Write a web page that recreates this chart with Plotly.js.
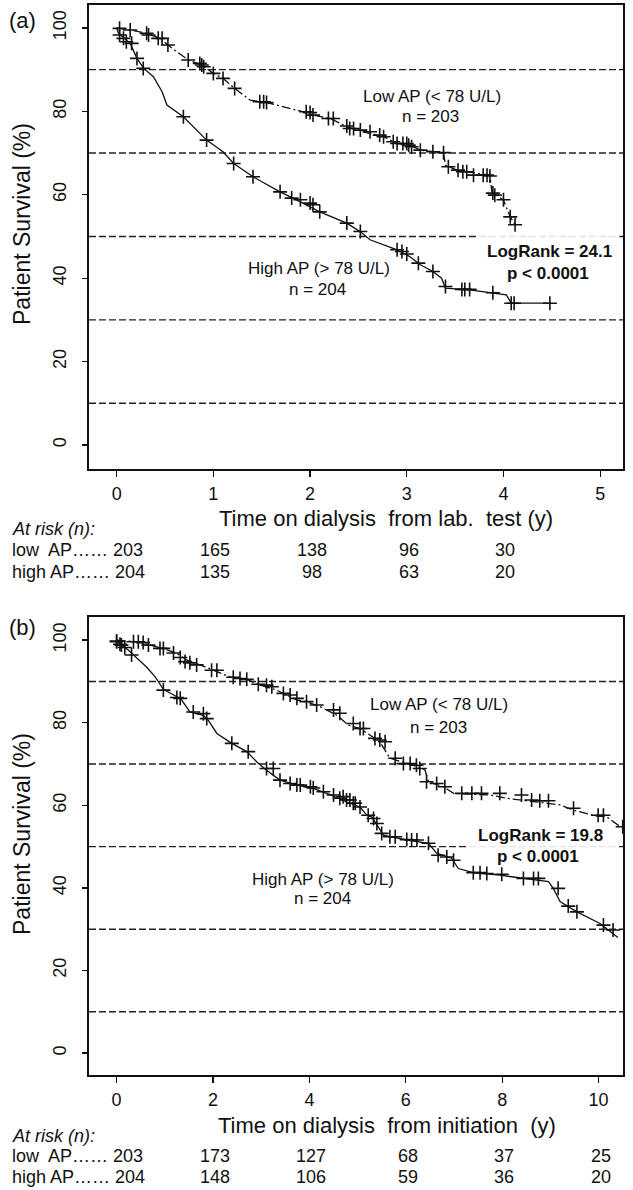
<!DOCTYPE html>
<html>
<head>
<meta charset="utf-8">
<script src="https://cdn.plot.ly/plotly-3.0.1.min.js"></script>
<style>html,body{margin:0;padding:0;background:#fff;}#chart{width:633px;height:1190px;}</style>
</head>
<body>
<div id="chart"></div>
<script>
// ---------- DATA ----------
// Panel (a): time on dialysis from lab. test (years), survival (%)
const aLowT  = [0, 0.14, 0.31, 0.45, 0.53, 0.74, 0.88, 1.0, 1.10, 1.22, 1.38, 1.55, 1.93, 2.03, 2.21, 2.38, 2.55, 2.76, 2.90, 3.03, 3.14, 3.38, 3.40, 3.52, 3.86, 3.88, 4.0, 4.07, 4.12];
const aLowS  = [100, 99.5, 98.7, 97.5, 95.9, 92.3, 91.1, 89.1, 87.9, 85.5, 82.7, 82.1, 79.9, 79.1, 78.3, 76.3, 75.1, 73.9, 72.3, 71.9, 70.7, 70.1, 67.1, 65.9, 64.7, 60.7, 58.7, 54.7, 52.8];
const aHighT = [0, 0.02, 0.14, 0.21, 0.28, 0.38, 0.47, 0.52, 0.69, 0.93, 1.10, 1.21, 1.41, 1.69, 1.90, 2.10, 2.38, 2.52, 2.62, 2.90, 3.03, 3.14, 3.27, 3.36, 3.40, 3.65, 4.03, 4.08, 4.48];
const aHighS = [100, 98.7, 96.3, 92.7, 90.3, 88.3, 84.7, 81.5, 78.7, 73.1, 70.3, 67.5, 64.3, 60.7, 58.3, 55.9, 53.2, 51.1, 49.2, 46.8, 45.2, 43.2, 41.6, 40.0, 37.6, 37.2, 36.0, 34.0, 34.0];
// censored observations (+)
const aLowCensT = [0.03, 0.14, 0.31, 0.33, 0.43, 0.47, 0.53, 0.74, 0.86, 0.88, 0.90, 1.0, 1.10, 1.22, 1.48, 1.52, 1.55, 1.96, 2.0, 2.03, 2.19, 2.24, 2.38, 2.41, 2.45, 2.52, 2.62, 2.72, 2.76, 2.86, 2.90, 2.96, 3.0, 3.02, 3.05, 3.14, 3.27, 3.38, 3.43, 3.53, 3.58, 3.62, 3.69, 3.79, 3.83, 3.86, 3.89, 3.91, 4.0, 4.07, 4.12];
const aLowCensS = [99.9, 99.5, 98.7, 98.3, 97.5, 97.5, 95.9, 92.3, 91.5, 91.1, 90.7, 89.1, 87.9, 85.5, 82.3, 82.3, 82.1, 79.9, 79.7, 79.1, 78.3, 78.3, 76.5, 75.9, 75.9, 75.5, 75.1, 74.3, 73.9, 72.7, 72.3, 72.3, 72.3, 71.9, 71.5, 70.7, 70.3, 70.1, 66.7, 65.9, 65.5, 65.5, 64.7, 64.7, 64.7, 64.5, 60.4, 59.9, 58.8, 54.7, 52.8];
const aHighCensT = [0.03, 0.07, 0.10, 0.155, 0.21, 0.275, 0.69, 0.93, 1.21, 1.41, 1.69, 1.81, 1.90, 2.0, 2.03, 2.10, 2.38, 2.52, 2.90, 2.95, 3.0, 3.12, 3.27, 3.40, 3.57, 3.60, 3.65, 3.89, 4.08, 4.11, 4.48];
const aHighCensS = [98.3, 97.5, 96.7, 96.3, 92.7, 90.3, 78.7, 73.1, 67.5, 64.3, 60.7, 59.2, 58.8, 58.0, 57.6, 55.9, 53.2, 51.2, 46.8, 46.4, 45.8, 43.6, 41.6, 38.0, 37.3, 37.3, 37.3, 36.5, 34.0, 34.0, 34.0];

// Panel (b): time on dialysis from initiation (years), survival (%)
const bLowT  = [0, 0.45, 0.69, 0.97, 1.25, 1.45, 1.73, 2.01, 2.35, 2.70, 2.98, 3.32, 3.74, 3.94, 4.22, 4.57, 4.81, 5.05, 5.26, 5.46, 5.67, 5.78, 6.02, 6.29, 6.40, 6.47, 6.78, 6.99, 7.75, 8.09, 8.65, 9.20, 9.48, 9.96, 10.17, 10.45];
const bLowS  = [100, 99.6, 98.8, 98.0, 96.8, 95.2, 94.0, 92.7, 91.1, 90.5, 89.1, 87.9, 85.5, 85.1, 83.9, 81.8, 79.4, 78.6, 77.0, 75.4, 71.4, 71.0, 70.3, 69.2, 68.5, 65.7, 64.5, 62.9, 62.5, 61.7, 60.9, 60.1, 58.8, 57.4, 57.2, 54.8];
const bHighT = [0, 0.07, 0.24, 0.35, 0.62, 0.80, 0.97, 1.25, 1.35, 1.52, 1.80, 1.90, 2.08, 2.39, 2.70, 2.91, 3.11, 3.39, 3.74, 4.08, 4.43, 4.77, 5.05, 5.19, 5.29, 5.43, 5.53, 6.02, 6.47, 6.64, 6.95, 7.09, 7.40, 7.95, 8.51, 8.96, 9.06, 9.20, 9.55, 10.03, 10.40];
const bHighS = [100, 99.0, 97.6, 96.4, 93.5, 91.1, 88.1, 86.3, 85.5, 82.6, 81.8, 80.6, 77.4, 75.0, 73.0, 70.5, 68.5, 66.1, 64.9, 64.1, 62.6, 60.8, 59.6, 57.6, 57.2, 54.8, 52.8, 51.6, 50.8, 48.4, 47.2, 44.7, 43.7, 43.1, 42.3, 41.5, 39.9, 36.7, 34.2, 31.4, 28.0];
const bLowCensT = [0, 0.07, 0.35, 0.45, 0.55, 0.66, 0.90, 0.97, 1.18, 1.32, 1.42, 1.52, 1.66, 1.97, 2.08, 2.42, 2.56, 2.70, 2.94, 3.11, 3.22, 3.46, 3.60, 3.74, 3.94, 4.15, 4.50, 4.63, 4.91, 5.05, 5.12, 5.36, 5.46, 5.57, 5.78, 5.95, 6.09, 6.22, 6.29, 6.43, 6.64, 6.81, 7.16, 7.37, 7.57, 7.95, 8.40, 8.61, 8.78, 8.96, 9.48, 9.99, 10.10, 10.50];
const bLowCensS = [99.8, 99.0, 99.6, 99.6, 99.4, 98.8, 98.0, 98.0, 96.9, 95.8, 94.8, 94.5, 94.0, 92.7, 92.7, 91.0, 90.7, 90.5, 89.3, 89.1, 88.7, 87.1, 86.7, 85.9, 85.1, 84.3, 83.1, 82.3, 79.8, 78.6, 78.6, 76.2, 75.8, 75.4, 71.4, 70.1, 70.1, 69.7, 68.9, 65.7, 65.3, 64.5, 62.9, 62.9, 62.9, 62.9, 62.5, 61.3, 61.1, 61.1, 59.3, 57.6, 57.6, 54.8];
const bHighCensT = [0.0, 0.10, 0.17, 0.31, 0.97, 1.25, 1.32, 1.59, 1.80, 1.87, 2.39, 2.73, 3.11, 3.25, 3.39, 3.60, 3.74, 3.81, 4.02, 4.08, 4.29, 4.50, 4.63, 4.70, 4.77, 4.84, 4.91, 4.95, 5.05, 5.22, 5.33, 5.40, 5.50, 5.67, 5.78, 6.02, 6.12, 6.23, 6.47, 6.67, 6.85, 6.99, 7.40, 7.54, 7.68, 7.99, 8.44, 8.65, 8.75, 9.16, 9.37, 9.55, 10.10, 10.30];
const bHighCensS = [99.6, 98.8, 98.2, 96.4, 87.9, 86.1, 85.9, 82.6, 82.2, 81.0, 75.0, 73.0, 68.9, 68.9, 66.1, 65.3, 64.9, 64.9, 64.5, 64.2, 63.3, 62.5, 61.7, 62.1, 61.3, 61.3, 60.5, 60.5, 59.6, 57.6, 56.8, 55.6, 53.2, 52.4, 52.4, 51.7, 51.6, 51.6, 50.8, 47.9, 47.5, 46.7, 43.7, 43.7, 43.5, 43.3, 42.3, 42.3, 42.3, 39.9, 35.6, 34.2, 31.0, 29.8];

// Numbers at risk
const aRiskTimes = [0, 1, 2, 3, 4];
const aRiskLow   = [203, 165, 138, 96, 30];
const aRiskHigh  = [204, 135, 98, 63, 20];
const bRiskTimes = [0, 2, 4, 6, 8, 10];
const bRiskLow   = [203, 173, 127, 68, 37, 25];
const bRiskHigh  = [204, 148, 106, 59, 36, 20];

const aTicks = [0, 1, 2, 3, 4, 5];
const bTicks = [0, 2, 4, 6, 8, 10];
const yTicks = [0, 20, 40, 60, 80, 100];
const refLines = [10, 30, 50, 70, 90];

const aLogRank = 'LogRank = 24.1';
const bLogRank = 'LogRank = 19.8';
const pText = 'p < 0.0001';

// ---------- LAYOUT HELPERS ----------
const W = 633, H = 1190;
const px = x => x / W;
const py = y => 1 - y / H;
const FONT = 'Liberation Sans, Arial, sans-serif';

function curve(x, y, xa, ya, dash) {
  return {x: x, y: y, xaxis: xa, yaxis: ya, mode: 'lines', type: 'scatter',
          line: {color: '#111', width: 1.3, dash: dash}, hoverinfo: 'skip', showlegend: false};
}
function cens(x, y, xa, ya) {
  return {x: x, y: y, xaxis: xa, yaxis: ya, mode: 'markers', type: 'scatter',
          marker: {symbol: 'cross-thin', size: 10, color: '#111', line: {width: 1.6, color: '#111'}},
          hoverinfo: 'skip', showlegend: false};
}
const DD = '9px,3px,2px,3px';
const traces = [
  curve(aLowT, aLowS, 'x', 'y', DD), curve(aHighT, aHighS, 'x', 'y', 'solid'),
  cens(aLowCensT, aLowCensS, 'x', 'y'), cens(aHighCensT, aHighCensS, 'x', 'y'),
  curve(bLowT, bLowS, 'x2', 'y2', DD), curve(bHighT, bHighS, 'x2', 'y2', 'solid'),
  cens(bLowCensT, bLowCensS, 'x2', 'y2'), cens(bHighCensT, bHighCensS, 'x2', 'y2')
];

function xAxis(domain, range, ticks, anchor) {
  return {domain: domain, range: range, anchor: anchor, tickvals: ticks, ticktext: ticks.map(String),
          ticks: 'outside', ticklen: 6, tickwidth: 1.3, tickcolor: '#111',
          showline: true, mirror: true, linecolor: '#111', linewidth: 1.6,
          showgrid: false, zeroline: false, fixedrange: true, ticklabelstandoff: 2,
          tickfont: {family: FONT, size: 18, color: '#111'}};
}
function yAxis(domain, range, anchor) {
  return {domain: domain, range: range, anchor: anchor, tickvals: yTicks, ticktext: yTicks.map(String),
          tickangle: -90, ticks: 'outside', ticklen: 5, tickwidth: 1.3, tickcolor: '#111',
          showline: true, mirror: true, linecolor: '#111', linewidth: 1.6,
          showgrid: false, zeroline: false, fixedrange: true, ticklabelstandoff: 9,
          tickfont: {family: FONT, size: 18, color: '#111'}};
}

const shapes = [];
refLines.forEach(v => {
  shapes.push({type: 'line', xref: 'x domain', yref: 'y', x0: 0, x1: 1, y0: v, y1: v, layer: 'below',
               line: {color: '#222', width: 1.4, dash: '7px,3px'}});
  shapes.push({type: 'line', xref: 'x2 domain', yref: 'y2', x0: 0, x1: 1, y0: v, y1: v, layer: 'below',
               line: {color: '#222', width: 1.4, dash: '7px,3px'}});
});
// white boxes behind the LogRank texts
shapes.push({type: 'rect', xref: 'x', yref: 'y', x0: 3.73, x1: 5.2, y0: 38.8, y1: 51.2, layer: 'below',
             fillcolor: 'rgba(255,255,255,0.88)', line: {width: 0}});
shapes.push({type: 'rect', xref: 'x2', yref: 'y2', x0: 7.27, x1: 10.38, y0: 45.6, y1: 56.0, layer: 'below',
             fillcolor: 'rgba(255,255,255,0.88)', line: {width: 0}});

const ann = [];
function txt(text, x, y, xref, yref, size, opts) {
  ann.push(Object.assign({text: text, x: x, y: y, xref: xref, yref: yref, showarrow: false,
    font: {family: FONT, size: size, color: '#111'}, xanchor: 'center', yanchor: 'middle'}, opts || {}));
}
// panel labels
txt('(a)', px(22), py(20), 'paper', 'paper', 22);
txt('(b)', px(22), py(627), 'paper', 'paper', 22);
// y titles
txt('Patient Survival (%)', px(22), py(224), 'paper', 'paper', 23, {textangle: -90});
txt('Patient Survival (%)', px(22), py(834), 'paper', 'paper', 23, {textangle: -90});
// x titles
txt('Time on dialysis  from lab.  test (y)', px(386), py(518), 'paper', 'paper', 22);
txt('Time on dialysis  from initiation  (y)', px(387), py(1125), 'paper', 'paper', 22);
// curve labels panel a
txt('Low AP (< 78 U/L)', 3.26, 83.5, 'x', 'y', 17);
txt('n = 203', 3.25, 78.7, 'x', 'y', 17);
txt('High AP (> 78 U/L)', 2.09, 42.4, 'x', 'y', 17);
txt('n = 204', 2.08, 37.2, 'x', 'y', 17);
txt('<b>' + aLogRank + '</b>', 4.48, 46.4, 'x', 'y', 17);
txt('<b>' + pText + '</b>', 4.46, 41.2, 'x', 'y', 17);
// curve labels panel b
txt('Low AP (< 78 U/L)', 6.69, 84.3, 'x2', 'y2', 17);
txt('n = 203', 6.67, 78.9, 'x2', 'y2', 17);
txt('High AP (> 78 U/L)', 4.28, 42.1, 'x2', 'y2', 17);
txt('n = 204', 4.28, 37.5, 'x2', 'y2', 17);
txt('<b>' + bLogRank + '</b>', 8.80, 52.8, 'x2', 'y2', 17);
txt('<b>' + pText + '</b>', 8.74, 47.5, 'x2', 'y2', 17);

// at-risk tables
function riskTable(times, low, high, xref, yAt, yLow, yHigh) {
  txt('<i>At risk (n):</i>', px(10), py(yAt), 'paper', 'paper', 18, {xanchor: 'left'});
  txt('low  AP\u2026\u2026 ' + low[0], px(10), py(yLow), 'paper', 'paper', 18, {xanchor: 'left'});
  txt('high AP\u2026\u2026 ' + high[0], px(10), py(yHigh), 'paper', 'paper', 18, {xanchor: 'left'});
  for (let i = 1; i < times.length; i++) {
    txt(String(low[i]), times[i], py(yLow), xref, 'paper', 18, {xshift: 2});
    txt(String(high[i]), times[i], py(yHigh), xref, 'paper', 18, {xshift: 2});
  }
}
riskTable(aRiskTimes, aRiskLow, aRiskHigh, 'x', 529, 550, 572);
riskTable(bRiskTimes, bRiskLow, bRiskHigh, 'x2', 1136, 1156, 1177);

const layout = {
  width: W, height: H, margin: {l: 0, r: 0, t: 0, b: 0},
  paper_bgcolor: '#fff', plot_bgcolor: '#fff', showlegend: false,
  font: {family: FONT, color: '#111'},
  xaxis: xAxis([px(89), px(623)], [-0.286, 5.236], aTicks, 'y'),
  yaxis: yAxis([py(469), py(5)], [-5.76, 105.5], 'x'),
  xaxis2: xAxis([px(89), px(623)], [-0.573, 10.506], bTicks, 'y2'),
  yaxis2: yAxis([py(1075), py(617)], [-5.3, 105.6], 'x2'),
  shapes: shapes, annotations: ann
};
Plotly.newPlot('chart', traces, layout, {staticPlot: true, displayModeBar: false});
</script>
</body>
</html>
